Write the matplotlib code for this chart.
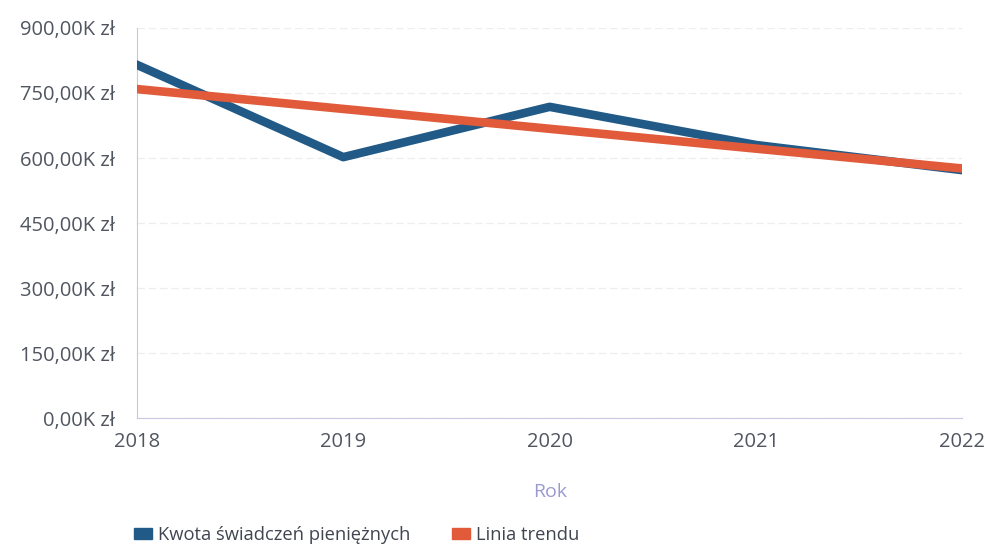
import numpy as np
import matplotlib.pyplot as plt
from matplotlib.patches import Patch
from matplotlib.ticker import FuncFormatter

# Kwota świadczeń pieniężnych (tys. zł) w kolejnych latach
years = [2018, 2019, 2020, 2021, 2022]
amounts = [815, 602, 718, 630, 572]
series_label = "Kwota świadczeń pieniężnych"
trend_label = "Linia trendu"

blue = "#215a87"
orange = "#e15b3b"

plt.rcParams["font.family"] = ["Open Sans", "DejaVu Sans"]

fig = plt.figure(figsize=(9.85, 5.48), dpi=100)
ax = fig.add_axes([0.139, 0.237, 0.838, 0.712])

# linear trend fitted to the series
coef = np.polyfit(years, amounts, 1)
trend = np.polyval(coef, years)

ax.plot(years, amounts, color=blue, lw=6.2, zorder=3)
ax.plot(years, trend, color=orange, lw=6.2, zorder=4)

ax.set_xlim(2018, 2022)
ax.set_ylim(0, 900)
ax.set_yticks(np.arange(0, 901, 150))
ax.set_xticks(years)
ax.yaxis.set_major_formatter(FuncFormatter(lambda v, p: f"{v:.2f}".replace(".", ",") + "K zł"))

ax.grid(axis="y", color="#eeeeee", lw=0.9, ls=(0, (6, 3)))
ax.set_axisbelow(True)
for side in ("top", "right"):
    ax.spines[side].set_visible(False)
ax.spines["left"].set_color("#c8c8e4")
ax.spines["bottom"].set_color("#c8c8e4")
ax.tick_params(length=0, labelsize=14.5, labelcolor="#505560")
ax.tick_params(axis="y", pad=16)
ax.tick_params(axis="x", pad=10)

ax.set_xlabel("Rok", fontsize=14, color="#9a9ad0", labelpad=22)

handles = [Patch(color=blue), Patch(color=orange)]
fig.legend(handles, [series_label, trend_label], loc="lower left",
           bbox_to_anchor=(0.119, -0.022), ncol=2, frameon=False,
           fontsize=13.2, labelcolor="#404550", handlelength=1.0,
           handleheight=0.55, handletextpad=0.3, columnspacing=2.3)

fig.savefig("out.png", dpi=100)
